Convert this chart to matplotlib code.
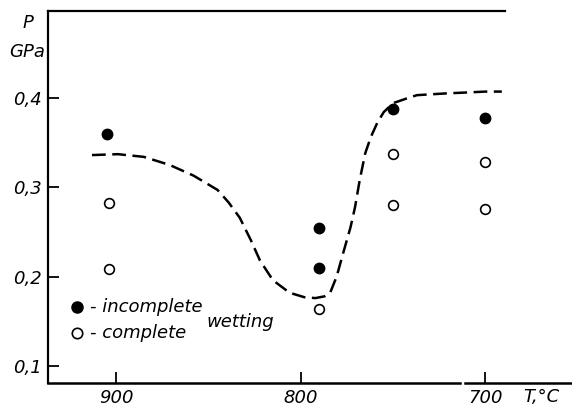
import matplotlib.pyplot as plt

t_incomplete = [905, 790, 790, 750, 700]
p_incomplete = [0.360, 0.254, 0.210, 0.388, 0.377]

t_complete = [904, 904, 790, 750, 750, 700, 700]
p_complete = [0.282, 0.209, 0.164, 0.337, 0.280, 0.328, 0.276]

# dashed guide curve
t_curve = [913, 899, 885, 871, 858, 845, 839, 833, 827, 822, 815, 806,
           798, 792, 787, 784, 780.5, 777, 773, 770.5, 768, 765, 762,
           758.5, 755, 750, 743, 737, 729, 721, 710, 700, 691]
p_curve = [0.336, 0.337, 0.334, 0.325, 0.313, 0.297, 0.283, 0.266, 0.241,
           0.218, 0.196, 0.182, 0.177, 0.176, 0.178, 0.182, 0.200, 0.226,
           0.255, 0.278, 0.308, 0.338, 0.356, 0.372, 0.384, 0.394, 0.399,
           0.403, 0.404, 0.405, 0.406, 0.407, 0.407]

y_ticks = [0.1, 0.2, 0.3, 0.4]
y_labels = ["0,1", "0,2", "0,3", "0,4"]
x_ticks = [900, 800, 700]
x_labels = ["900", "800", "700"]

plt.rcParams["font.family"] = "DejaVu Sans"
fs = 13

fig = plt.figure(figsize=(5.72, 4.11), dpi=100)
ax = fig.add_axes([0.0834, 0.0674, 0.9166, 0.9066])

ax.plot(t_curve, p_curve, color="black", lw=1.8, dashes=(5.5, 2.6))
ax.plot(t_incomplete, p_incomplete, "o", color="black", ms=7.5, mec="black")
ax.plot(t_complete, p_complete, "o", color="black", ms=7, mfc="white",
        mec="black", mew=1.2)

ax.set_xlim(937, 653)
ax.set_ylim(0.0807, 0.4975)

# axis frame: left spine, shortened top line, broken bottom line
for s in ["top", "right", "bottom"]:
    ax.spines[s].set_visible(False)
ax.spines["left"].set_linewidth(1.6)
ax.axhline(0.4975, xmin=0, xmax=0.872, color="black", lw=1.6, clip_on=False)
ax.axhline(0.0807, xmin=0, xmax=0.786, color="black", lw=1.8, clip_on=False)
ax.axhline(0.0807, xmin=0.796, xmax=1.0, color="black", lw=1.8, clip_on=False)

ax.set_yticks(y_ticks, labels=y_labels)
ax.set_xticks(x_ticks, labels=x_labels)
ax.tick_params(direction="in", length=8, width=1.3, labelsize=fs, pad=4)
for lab in ax.get_xticklabels() + ax.get_yticklabels():
    lab.set_fontstyle("italic")

# axis titles
fig.text(28 / 572, 1 - 23 / 411, "P", fontsize=fs, style="italic",
         ha="center", va="center")
fig.text(27 / 572, 1 - 52 / 411, "GPa", fontsize=fs, style="italic",
         ha="center", va="center")
fig.text(541 / 572, 1 - 397 / 411, "T,°C", fontsize=fs, style="italic",
         ha="center", va="center")

# hand-drawn legend
ax.plot([921], [0.1665], "o", color="black", ms=8)
ax.plot([921], [0.1375], "o", color="black", ms=7.5, mfc="white", mew=1.2)
ax.text(914, 0.1665, "- incomplete", fontsize=fs, style="italic", va="center")
ax.text(914, 0.1375, "- complete", fontsize=fs, style="italic", va="center")
ax.text(851, 0.149, "wetting", fontsize=fs, style="italic", va="center")

fig.savefig("out.png", dpi=100)
